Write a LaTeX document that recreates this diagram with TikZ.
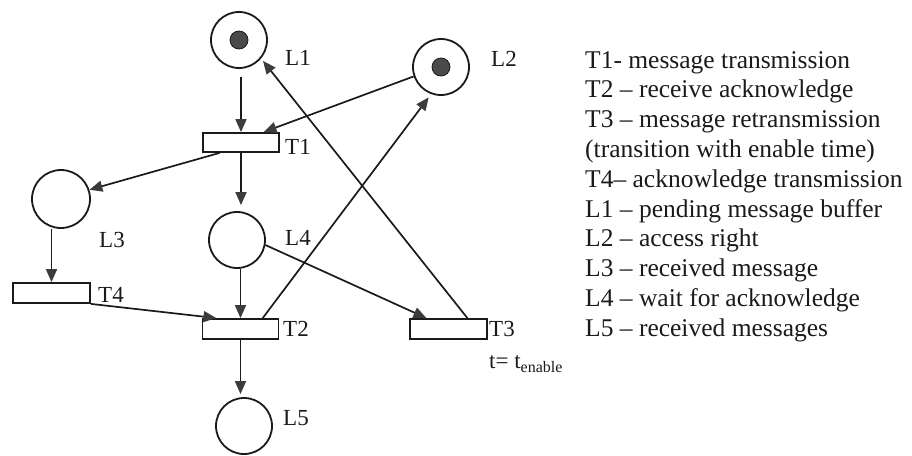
\documentclass[tikz,border=0pt]{standalone}
\usepackage{fontspec}
\setmainfont{Liberation Serif}
\usetikzlibrary{arrows.meta,calc}
\definecolor{tokgray}{HTML}{4A4A4A}
\definecolor{tipgray}{HTML}{3C3C3C}
\definecolor{ink}{HTML}{1A1A1A}
\begin{document}
\begin{tikzpicture}[x=1pt,y=-1pt,
  place/.style={circle,draw=ink,line width=1.8pt,minimum size=56pt,inner sep=0pt},
  trans/.style={rectangle,draw=ink,line width=1.8pt,minimum width=76pt,minimum height=19pt,inner sep=0pt},
  token/.style={circle,fill=tokgray,draw=ink,line width=0.8pt,minimum size=18pt,inner sep=0pt},
  lbl/.style={font=\fontsize{23}{28}\selectfont,inner sep=0pt,text=ink},
  legend/.style={font=\fontsize{25.5}{30}\selectfont,inner sep=0pt,text=ink,anchor=base west},
  arc/.style={draw=ink,line width=1.7pt,-{Triangle[length=13pt,width=11pt,color=tipgray]}}
]
\useasboundingbox (0,0) rectangle (912,455);

% places
\node[place] (L1) at (239,40) {};
\node[token] (k1) at (L1) {};
\node[place] (L2) at (441,67) {};
\node[token] (k2) at (L2) {};
\node[place,minimum size=58pt] (L3) at (61,199) {};
\node[place] (L4) at (237,240) {};
\node[place] (L5) at (244,426) {};

% transitions
\node[trans] (T1) at (241,142.5) {};
\node[trans,minimum height=20pt] (T2) at (240.5,329) {};
\node[trans,minimum width=77pt,minimum height=20pt] (T3) at (448.5,329) {};
\node[trans,minimum width=77pt,minimum height=20pt] (T4) at (51.5,293) {};

% labels
\node[lbl] (lL1) at (298,58) {L1};
\node[lbl] (lL2) at (504,59) {L2};
\node[lbl] (lL3) at (112,240) {L3};
\node[lbl] (lL4) at (298,238) {L4};
\node[lbl] (lL5) at (296,418) {L5};
\node[lbl] (lT1) at (298,147) {T1};
\node[lbl] (lT2) at (296,329) {T2};
\node[lbl] (lT3) at (502,329) {T3};
\node[lbl] (lT4) at (111,295) {T4};
\node[lbl,anchor=base west] (ten) at (489,368)
  {t= t\raisebox{-0.45ex}{\fontsize{16}{16}\selectfont enable}};

% arcs
\draw[arc,shorten <=8pt] (T1.north |- L1.south) -- (T1.north);
\draw[arc] (L2.199.5) -- ($(T1.north)!0.58!(T1.north east)$);
\draw[arc] ($(T1.south west)!0.45!(T1.south)$) -- (L3.18);
\draw[arc,shorten >=6pt] (T1.south) -- (T1.south |- L4.north);
\draw[arc] (T4.north |- L3.south) -- (T4.north);
\draw[arc] (T4.south east) -- ($(T2.north west)!0.38!(T2.north)$);
\draw[arc] (T2.north |- L4.south) -- (T2.north);
\draw[arc] (L4.-10) -- ($(T3.north west)!0.44!(T3.north)$);
\draw[arc,shorten >=4pt] ($(T2.north)!0.57!(T2.north east)$) -- (L2.250);
\draw[arc,shorten >=3pt] ($(T3.north)!0.48!(T3.north east)$) -- (L1.-40);
\draw[arc,shorten >=3pt] (T2.south) -- (T2.south |- L5.north);

% legend
\foreach \t [count=\i from 0] in {
  T1- message transmission,
  T2 -- receive acknowledge,
  T3 -- message retransmission,
  (transition with enable time),
  T4-- acknowledge transmission,
  L1 -- pending message buffer,
  L2 -- access right,
  L3 -- received message,
  L4 -- wait for acknowledge,
  L5 -- received messages}
  \node[legend] (leg\i) at (585,68+29.8*\i) {\t};
\end{tikzpicture}
\end{document}
